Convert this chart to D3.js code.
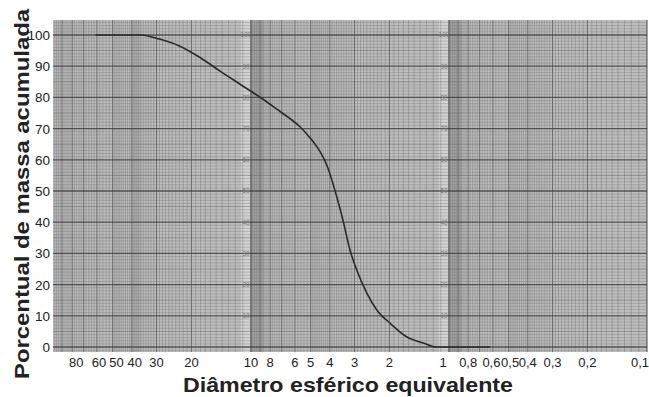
<!DOCTYPE html>
<html><head><meta charset="utf-8">
<script src="https://cdn.jsdelivr.net/npm/d3@7"></script>
<style>html,body{margin:0;padding:0;background:#fff;}svg{display:block;}</style>
</head><body>
<script>
// Data (diameter, cumulative mass %)
const diameters = [61, 36, 29, 23, 18, 14.4, 11.4, 8.7, 7.1, 6.35, 5.66, 5.04, 4.48, 4.13, 3.9, 3.68, 3.43, 3.16, 2.92, 2.6, 2.31, 1.99, 1.63, 1.35, 1.15, 0.62];
const cumulative = [100, 100, 98.7, 96.5, 92.7, 88.5, 84.3, 79.4, 75.4, 73.2, 70.6, 67.1, 62.6, 58.1, 53.4, 47.9, 40.6, 31.0, 24.6, 17.3, 11.8, 7.7, 3.2, 1.3, 0, 0];
const xTickValues = [80, 60, 50, 40, 30, 20, 10, 8, 6, 5, 4, 3, 2, 1, 0.8, 0.6, 0.5, 0.4, 0.3, 0.2, 0.1];
const yTickValues = [0, 10, 20, 30, 40, 50, 60, 70, 80, 90, 100];
const xTitle = "Diâmetro esférico equivalente";
const yTitle = "Porcentual de massa acumulada";

const W = 649, H = 397;
const L = 53, R = 647, T = 20, B = 352;

const svg = d3.select("body").append("svg").attr("width", W).attr("height", H);
const x = d3.scaleLog().domain([100, 0.1]).range([L, R]);
const y = d3.scaleLinear().domain([-1.6, 104.8]).range([B, T]);

const paper = svg.append("g");
paper.append("rect").attr("x", L).attr("y", T).attr("width", R - L).attr("height", B - T).attr("fill", "#bdbdbd");

// decade bands (printed strips on the log paper)
[10, 1].forEach(d => {
  paper.append("rect").attr("x", x(d) - 10).attr("y", T).attr("width", 9).attr("height", B - T).attr("fill", "#d2d2d2");
  paper.append("rect").attr("x", x(d)).attr("y", T).attr("width", 13).attr("height", B - T).attr("fill", "#8f8f8f").attr("opacity", 0.45);
});
paper.append("rect").attr("x", x(40)).attr("y", T).attr("width", x(36) - x(40)).attr("height", B - T).attr("fill", "#999").attr("opacity", 0.35);

// vertical log grid
const vMinor = [], vMid = [], vMajor = [];
[10, 1, 0.1].forEach(b => {
  for (let m = 10; m < 100; m += (m < 50 ? 1 : 2)) {
    const v = b * m / 10;
    if (m % 10 === 0) { if (m === 10) vMajor.push(v); else vMid.push(v); }
    else vMinor.push(v);
  }
});
paper.selectAll(".vmin").data(vMinor).join("line")
  .attr("x1", d => x(d)).attr("x2", d => x(d)).attr("y1", T).attr("y2", B)
  .attr("stroke", "#6a6a6a").attr("stroke-width", 0.8).attr("opacity", 0.45);
paper.selectAll(".vmid").data(vMid).join("line")
  .attr("x1", d => x(d)).attr("x2", d => x(d)).attr("y1", T).attr("y2", B)
  .attr("stroke", "#444").attr("stroke-width", 1).attr("opacity", 0.65);
paper.selectAll(".vmaj").data(vMajor).join("line")
  .attr("x1", d => x(d)).attr("x2", d => x(d)).attr("y1", T).attr("y2", B)
  .attr("stroke", "#333").attr("stroke-width", 1.2).attr("opacity", 0.75);

// horizontal linear grid
const hAll = d3.range(-1, 105, 1);
paper.selectAll(".hl").data(hAll).join("line")
  .attr("x1", L).attr("x2", R).attr("y1", d => y(d)).attr("y2", d => y(d))
  .attr("stroke", d => d % 10 === 0 ? "#3a3a3a" : d % 5 === 0 ? "#555" : "#707070")
  .attr("stroke-width", d => d % 10 === 0 ? 1.3 : 0.8)
  .attr("opacity", d => d % 10 === 0 ? 0.8 : d % 5 === 0 ? 0.55 : 0.4);

// small printed numbers on the paper strips
[10, 1].forEach(d => {
  paper.selectAll(null).data(yTickValues.filter(v => v > 0)).join("text")
    .attr("x", x(d) - 5).attr("y", v => y(v) + 2.5)
    .attr("text-anchor", "middle").attr("font-family", "Liberation Sans, Arial, sans-serif")
    .attr("font-size", 6.5).attr("fill", "#777").text(v => v);
});

// curve
const pts = diameters.map((d, i) => [x(d), y(cumulative[i])]);
svg.append("path").attr("d", d3.line().curve(d3.curveMonotoneX)(pts))
  .attr("fill", "none").attr("stroke", "#2a2a2a").attr("stroke-width", 1.6);

// axes labels
const font = "Liberation Sans, Arial, Helvetica, sans-serif";
const fmt = v => String(v).replace(".", ",");
const nudge = {80: 4, 60: 2, 50: 4, 40: 3, 1: -6, 0.6: -1.5, 0.5: 1.5};
svg.append("g").selectAll("text").data(xTickValues).join("text")
  .attr("x", d => d === 0.1 ? W : x(d) + (nudge[d] || 0)).attr("y", 367)
  .attr("text-anchor", d => d === 0.1 ? "end" : "middle")
  .attr("font-family", font).attr("font-size", 13).attr("fill", "#222").text(fmt);
svg.append("g").selectAll("text").data(yTickValues).join("text")
  .attr("x", 50).attr("y", d => y(d) + 5).attr("text-anchor", "end")
  .attr("font-family", font).attr("font-size", 13.5).attr("fill", "#222").text(d => d);

svg.append("text").attr("x", 348).attr("y", 392).attr("text-anchor", "middle")
  .attr("font-family", font).attr("font-weight", "bold").attr("font-size", 21).attr("fill", "#222")
  .attr("textLength", 330).attr("lengthAdjust", "spacingAndGlyphs").text(xTitle);
svg.append("text").attr("transform", "translate(29,194) rotate(-90)").attr("text-anchor", "middle")
  .attr("font-family", font).attr("font-weight", "bold").attr("font-size", 21).attr("fill", "#222")
  .attr("textLength", 370).attr("lengthAdjust", "spacingAndGlyphs").text(yTitle);
</script>
</body></html>
